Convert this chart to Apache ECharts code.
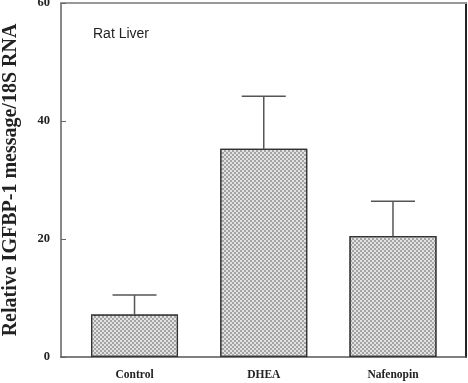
<!DOCTYPE html>
<html>
<head>
<meta charset="utf-8">
<script src="https://cdn.jsdelivr.net/npm/echarts@6/dist/echarts.min.js"></script>
<style>html,body{margin:0;padding:0;background:#fff;}#c{width:468px;height:383px;}</style>
</head>
<body>
<div id="c"></div>
<script>
const categories = ['Control', 'DHEA', 'Nafenopin'];
const means = [7.2, 35.3, 20.5];
const upperErrors = [10.5, 44.2, 26.4];
const yTicks = [0, 20, 40, 60];
const yTitle = 'Relative IGFBP-1 message/18S RNA';
const panelLabel = 'Rat Liver';

const chart = echarts.init(document.getElementById('c'), null, {renderer: 'canvas'});
const barData = means.map((v, i) => [i, v]);
const errData = means.map((v, i) => [i, v, upperErrors[i]]);
const serif = '"Liberation Serif", "DejaVu Serif", serif';

chart.setOption({
  animation: false,
  backgroundColor: '#fff',
  title: {
    text: panelLabel, left: 88, top: 22, padding: 5,
    textStyle: {fontFamily: '"Liberation Sans", Arial, sans-serif', fontSize: 14, fontWeight: 'normal', color: '#222'}
  },
  grid: {left: 61, right: 2, top: 3, bottom: 26, containLabel: false, outerBoundsMode: 'none'},
  xAxis: [{
    type: 'value', min: -0.569, max: 2.565, position: 'bottom',
    axisLine: {show: true, lineStyle: {color: '#555', width: 1.5}},
    axisTick: {show: false}, splitLine: {show: false},
    axisLabel: {
      customValues: [0, 1, 2],
      formatter: v => categories[Math.round(v)] || '',
      fontFamily: serif, fontWeight: 'bold', fontSize: 11.5, color: '#222', margin: 12
    }
  }, {
    type: 'value', min: -0.569, max: 2.565, position: 'top',
    axisLine: {show: true, onZero: false, lineStyle: {color: '#999', width: 2}},
    axisTick: {show: false}, axisLabel: {show: false}, splitLine: {show: false}
  }],
  yAxis: [{
    type: 'value', min: 0, max: 60, interval: 20, position: 'left',
    name: yTitle, nameLocation: 'middle', nameRotate: 90, nameGap: 40,
    nameTextStyle: {fontFamily: serif, fontWeight: 'bold', fontSize: 20, color: '#222'},
    axisLine: {show: true, onZero: false, lineStyle: {color: '#888', width: 2}},
    axisTick: {show: true, inside: true, length: 5, lineStyle: {color: '#666', width: 1}},
    axisLabel: {fontFamily: serif, fontWeight: 'bold', fontSize: 12.5, color: '#222', margin: 11,
      customValues: yTicks},
    splitLine: {show: false}
  }, {
    type: 'value', min: 0, max: 60, position: 'right',
    axisLine: {show: true, onZero: false, lineStyle: {color: '#222', width: 2}},
    axisTick: {show: false}, axisLabel: {show: false}, splitLine: {show: false}
  }],
  series: [{
    type: 'bar', xAxisIndex: 0, yAxisIndex: 0, data: barData, barWidth: 87,
    itemStyle: {
      color: '#e2e2e2', borderColor: '#333', borderWidth: 1.2,
      decal: {symbol: 'rect', symbolSize: 1, color: '#a4a4a4',
        dashArrayX: [[2, 2], [0, 2, 2, 0]], dashArrayY: [2, 0]}
    }
  }, {
    type: 'custom', xAxisIndex: 0, yAxisIndex: 0, data: errData, z: 1,
    renderItem: function (params, api) {
      const x = api.value(0);
      const base = api.coord([x, api.value(1)]);
      const top = api.coord([x, api.value(2)]);
      const hw = 22;
      const style = {stroke: '#555', lineWidth: 1.5};
      return {type: 'group', children: [
        {type: 'line', shape: {x1: base[0], y1: base[1], x2: top[0], y2: top[1]}, style: style},
        {type: 'line', shape: {x1: top[0] - hw, y1: top[1], x2: top[0] + hw, y2: top[1]}, style: style}
      ]};
    }
  }]
});
</script>
</body>
</html>
